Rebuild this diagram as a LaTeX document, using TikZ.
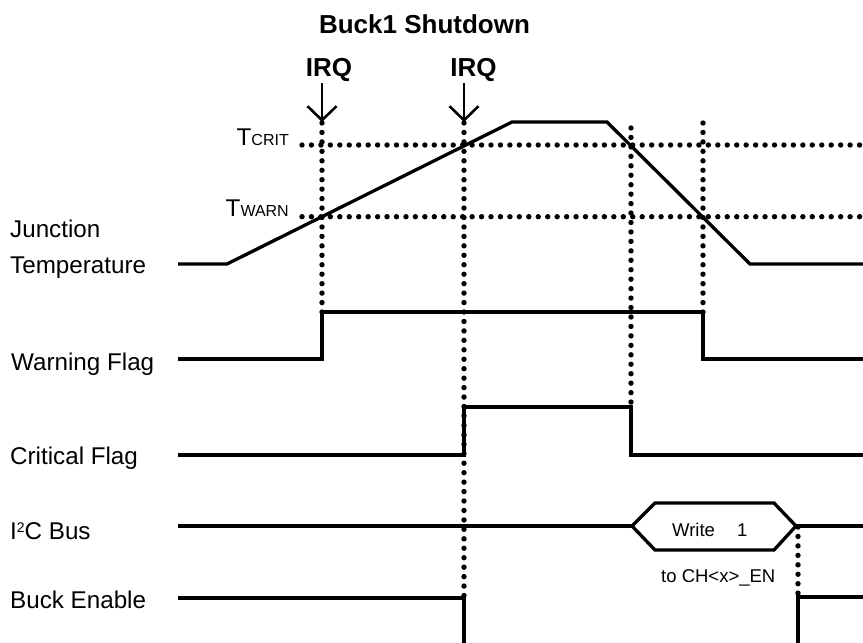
\documentclass[tikz,border=0pt]{standalone}
\usepackage{fontspec}
\setmainfont{Liberation Sans}
\usetikzlibrary{arrows.meta}
\newcommand\lblfont{\fontsize{24.2}{36}\selectfont}
\newcommand\headfont{\fontsize{26}{30}\selectfont\bfseries}
\newcommand\smallfont{\fontsize{18.5}{22}\selectfont}
\newcommand\lowsub[1]{{\fontsize{16}{18}\selectfont #1}}
\newcommand\supsmall[1]{\raisebox{6.5pt}{\fontsize{14}{14}\selectfont #1}}
\tikzset{
	wave/.style={line width=3.3pt},
	dotline/.style={line width=5.4pt, line cap=round, dash pattern=on 0pt off 9.45pt},
	irqarrow/.style={line width=2.6pt, -{Straight Barb[length=14pt,width=29pt]}},
	sigtext/.style={font=\lblfont, inner sep=0pt},
	headtext/.style={font=\headfont, inner sep=0pt, anchor=base},
}

\begin{document}
\begin{tikzpicture}[x=1pt,y=-1pt]
	\useasboundingbox (0,0) rectangle (863,643);

	% thresholds
	\draw [dotline] (302,145) -- (863,145);
	\draw [dotline] (302,216.7) -- (863,216.7);

	% event markers
	\draw [dotline] (322,123) -- (322,312);
	\draw [dotline] (464,123) -- (464,598);
	\draw [dotline] (631,128) -- (631,407);
	\draw [dotline] (703,123) -- (703,312);
	\draw [dotline] (798,527) -- (798,597);

	% waveforms
	\draw [wave] (178,264) -- (227,264) -- (512,122) -- (607,122) -- (750,264) -- (863,264);
	\draw [wave] (178,359) -- (322,359) -- (322,312) -- (703,312) -- (703,359) -- (863,359);
	\draw [wave] (178,455) -- (464,455) -- (464,407) -- (631,407) -- (631,455) -- (863,455);
	\draw [wave] (178,526) -- (632,526);
	\draw [wave] (632,526) -- (655,503) -- (774,503) -- (796,526) -- (774,550) -- (655,550) -- cycle;
	\draw [wave] (796,526) -- (863,526);
	\draw [wave] (178,598) -- (464,598) -- (464,643);
	\draw [wave] (798,643) -- (798,597) -- (863,597);

	% labels
	\node [headtext] (title) at (424.5,33) {Buck1 Shutdown};
	\node [headtext] (irqa) at (329,76) {IRQ};
	\node [headtext] (irqb) at (473.5,76) {IRQ};
	\coordinate (tipa) at (322,122);
	\coordinate (tipb) at (464,122);
	\draw [irqarrow] (322,83) -- (tipa);
	\draw [irqarrow] (464,83) -- (tipb);

	\node [sigtext, anchor=base east] (tcrit) at (289,145) {T\lowsub{CRIT}};
	\node [sigtext, anchor=base east] (twarn) at (289,216.7) {T\lowsub{WARN}};

	\node [sigtext, anchor=base west, align=left] (jtemp) at (10,273) {Junction\\Temperature};
	\node [sigtext, anchor=base west] (wflag) at (11,370) {Warning Flag};
	\node [sigtext, anchor=base west] (cflag) at (10,464) {Critical Flag};
	\node [sigtext, anchor=base west] (i2c) at (10,539) {I\supsmall{2}C Bus};
	\node [sigtext, anchor=base west] (buck) at (10,608) {Buck Enable};

	\node [font=\smallfont, inner sep=0pt, anchor=base west] (wr) at (672,536) {Write\hspace{22pt}1};
	\node [font=\smallfont, inner sep=0pt, anchor=base west] (toch) at (661,582) {to CH<x>\_EN};
\end{tikzpicture}
\end{document}
